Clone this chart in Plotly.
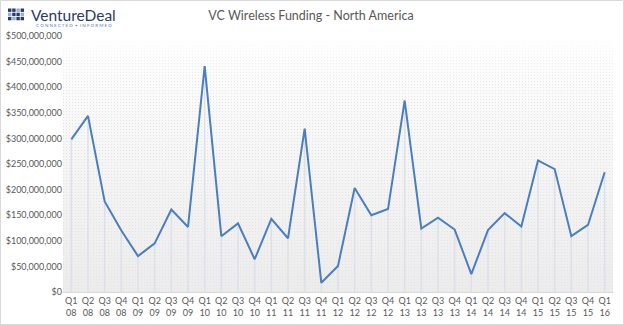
import base64
import plotly.graph_objects as go

# Quarterly VC wireless funding, North America (USD)
quarters = ["Q1", "Q2", "Q3", "Q4"]
years = ["08", "09", "10", "11", "12", "13", "14", "15", "16"]
periods = [f"{q}<br>{y}" for y in years for q in quarters][:33]

funding = [
    298e6, 344e6, 177e6, 120e6,   # 2008
    70e6, 95e6, 161e6, 127e6,     # 2009
    441e6, 109e6, 134e6, 64e6,    # 2010
    143e6, 105e6, 319e6, 18e6,    # 2011
    51e6, 203e6, 150e6, 162e6,    # 2012
    374e6, 124e6, 145e6, 122e6,   # 2013
    35e6, 121e6, 154e6, 128e6,    # 2014
    257e6, 240e6, 109e6, 131e6,   # 2015
    234e6,                        # 2016
]

y_ticks = list(range(0, 500_000_001, 50_000_000))
y_labels = [f"${v:,}" for v in y_ticks]

TEXT_GREY = "#595959"
LINE_BLUE = "#4A7EBF"
NAVY = "#2B3A67"
LIGHT_BLUE = "#8FB0DA"

W, H = 624, 325
L, R, T, B = 63, 11, 36, 33
PW, PH = W - L - R, H - T - B


def px_to_paper(x, y):
    """Convert a pixel position on the page to paper coordinates."""
    return (x - L) / PW, (H - B - y) / PH


# Plot-area backdrop: soft vertical fade from white to light grey with a fine dot texture
svg_bg = f"""<svg xmlns='http://www.w3.org/2000/svg' width='{PW}' height='{PH}' preserveAspectRatio='none'>
<defs>
<linearGradient id='g' x1='0' y1='0' x2='0' y2='1'>
<stop offset='0' stop-color='#ffffff'/>
<stop offset='0.12' stop-color='#fcfcfc'/>
<stop offset='1' stop-color='#ececec'/>
</linearGradient>
<pattern id='d' width='3' height='3' patternUnits='userSpaceOnUse'>
<rect x='0' y='0' width='1' height='1' fill='#e4e4e4'/>
</pattern>
<linearGradient id='m' x1='0' y1='0' x2='0' y2='1'>
<stop offset='0' stop-color='#ffffff' stop-opacity='0'/>
<stop offset='0.1' stop-color='#ffffff' stop-opacity='0.6'/>
<stop offset='0.3' stop-color='#ffffff' stop-opacity='1'/>
</linearGradient>
<mask id='mk'><rect width='{PW}' height='{PH}' fill='url(#m)'/></mask>
</defs>
<rect width='{PW}' height='{PH}' fill='url(#g)'/>
<rect width='{PW}' height='{PH}' fill='url(#d)' mask='url(#mk)'/>
</svg>"""
bg_src = "data:image/svg+xml;base64," + base64.b64encode(svg_bg.encode()).decode()

fig = go.Figure()

fig.add_trace(go.Scatter(
    x=periods,
    y=funding,
    mode="lines",
    line=dict(color=LINE_BLUE, width=2),
    # drop lines from each quarter down to the axis
    error_y=dict(
        type="data",
        symmetric=False,
        array=[0] * len(funding),
        arrayminus=funding,
        width=0,
        thickness=1.5,
        color="#DCE1E8",
    ),
    hoverinfo="x+y",
    showlegend=False,
))

# VentureDeal logo mark: small grid of squares
logo_pattern = [
    [1, 1, 0, 1],
    [0, 1, 1, 0],
    [1, 0, 1, 1],
]
cell, gap, x0, y0 = 3.4, 0.8, 8.0, 8.5
shapes = []
for r, row in enumerate(logo_pattern):
    for c, dark in enumerate(row):
        left = x0 + c * (cell + gap)
        top = y0 + r * (cell + gap)
        px0, py1 = px_to_paper(left, top)
        px1, py0 = px_to_paper(left + cell, top + cell)
        shapes.append(dict(
            type="rect", xref="paper", yref="paper",
            x0=px0, x1=px1, y0=py0, y1=py1,
            fillcolor=NAVY if dark else LIGHT_BLUE, line=dict(width=0),
            layer="above",
        ))

# light frame around the whole chart
fx0, fy1 = px_to_paper(0.5, 0.5)
fx1, fy0 = px_to_paper(W - 0.5, H - 0.5)
shapes.append(dict(
    type="rect", xref="paper", yref="paper",
    x0=fx0, x1=fx1, y0=fy0, y1=fy1,
    line=dict(color="#D9D9D9", width=1), fillcolor="rgba(0,0,0,0)",
    layer="below",
))

brand_x, brand_y = px_to_paper(29, 15)
tag_x, tag_y = px_to_paper(74, 25.5)

fig.update_layout(
    width=W,
    height=H,
    margin=dict(l=L, r=R, t=T, b=B, autoexpand=False),
    paper_bgcolor="white",
    plot_bgcolor="rgba(0,0,0,0)",
    font=dict(family="Lato, Open Sans, sans-serif", color=TEXT_GREY),
    title=dict(
        text="VC Wireless Funding - North America",
        x=311 / W, xref="container", xanchor="center",
        y=1 - 16 / H, yref="container", yanchor="middle",
        font=dict(size=12.5, color=TEXT_GREY, family="Lato, Open Sans, sans-serif"),
    ),
    xaxis=dict(
        type="category",
        showgrid=False,
        showline=True,
        linecolor="#D9D9D9",
        linewidth=1,
        ticks="",
        tickangle=0,
        automargin=False,
        tickfont=dict(size=9, color=TEXT_GREY),
        range=[-0.5, len(periods) - 0.5],
        fixedrange=True,
    ),
    yaxis=dict(
        range=[0, 500_000_000],
        tickvals=y_ticks,
        ticktext=y_labels,
        showgrid=False,
        zeroline=False,
        showline=False,
        ticks="",
        automargin=False,
        tickfont=dict(size=9, color=TEXT_GREY),
        fixedrange=True,
    ),
    images=[dict(
        source=bg_src, xref="paper", yref="paper",
        x=0, y=1, sizex=1, sizey=1,
        xanchor="left", yanchor="top",
        sizing="stretch", layer="below",
    )],
    shapes=shapes,
    annotations=[
        dict(
            text="VentureDeal", xref="paper", yref="paper",
            x=brand_x, y=brand_y,
            xanchor="left", yanchor="middle", showarrow=False,
            font=dict(size=15.5, color=NAVY, family="Lato, sans-serif"),
        ),
        dict(
            text="C O N N E C T E D  •  I N F O R M E D", xref="paper", yref="paper",
            x=tag_x, y=tag_y,
            xanchor="center", yanchor="middle", showarrow=False,
            font=dict(size=4.5, color="#4F81BD", family="Lato, sans-serif"),
        ),
    ],
)

fig.write_html("out.html")
